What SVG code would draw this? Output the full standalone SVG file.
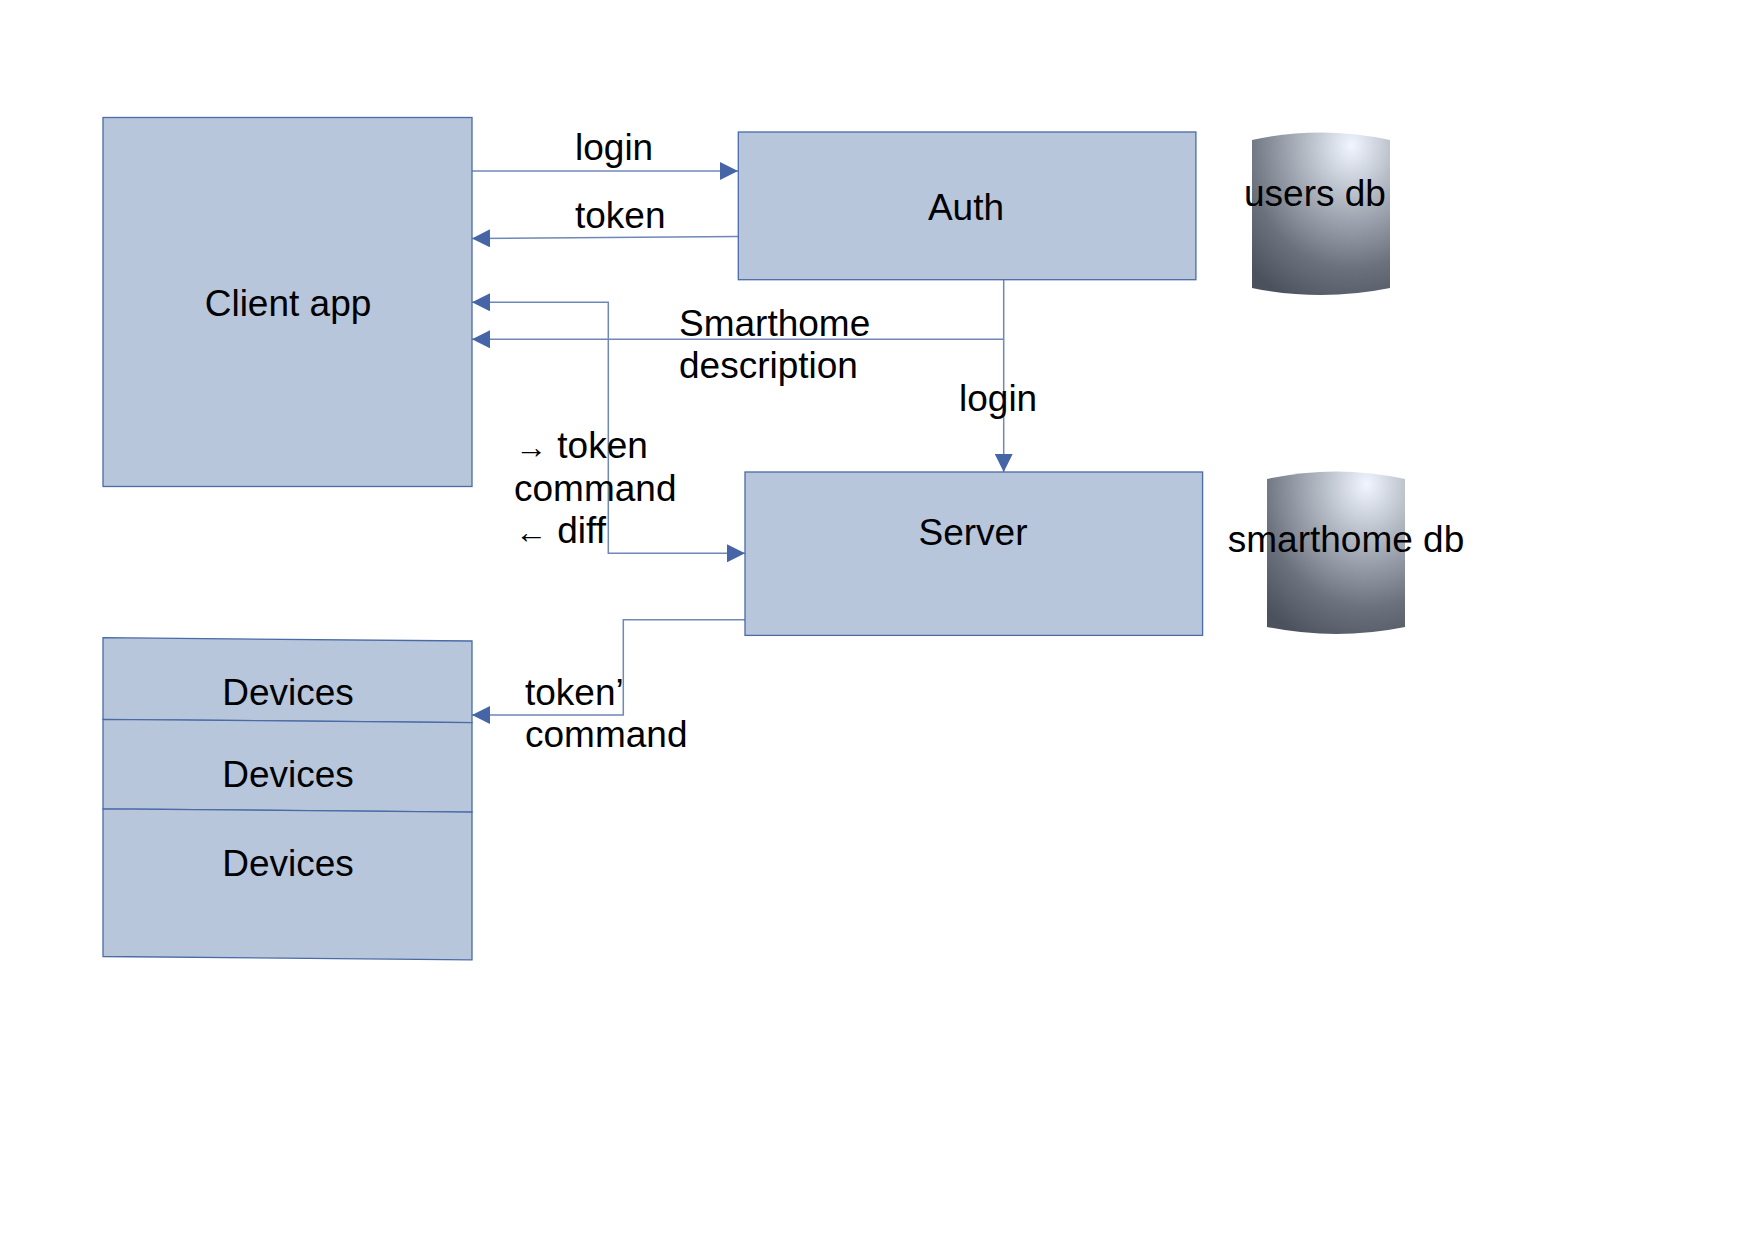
<svg xmlns="http://www.w3.org/2000/svg" width="1753" height="1240" viewBox="0 0 1753 1240">
<style>
.box{fill:#b7c6da;stroke:#4a6aa8;stroke-width:1.3}
.lbl{font-family:"Liberation Sans",Arial,sans-serif;font-size:37px;fill:#000}
.mid{text-anchor:middle}
.con{fill:none;stroke:#6f88b8;stroke-width:1.5}
</style>
<defs>
<marker id="ah" viewBox="0 0 18 18" refX="18" refY="9" markerWidth="18" markerHeight="18" markerUnits="userSpaceOnUse" orient="auto-start-reverse">
<path d="M0,0 L18,9 L0,18 Z" fill="#4565a6"/>
</marker>
<radialGradient id="cyl" cx="0.72" cy="0.08" r="1.05" fx="0.72" fy="0.08">
<stop offset="0" stop-color="#f0f5ff"/>
<stop offset="0.32" stop-color="#b4bac4"/>
<stop offset="0.72" stop-color="#6b727e"/>
<stop offset="1" stop-color="#4c525d"/>
</radialGradient>
</defs>
<rect width="1753" height="1240" fill="#fff"/>
<g id="connectors">
<line class="con" x1="472" y1="171" x2="738" y2="171" marker-end="url(#ah)"/>
<line class="con" x1="738" y1="236.5" x2="472" y2="238.5" marker-end="url(#ah)"/>
<line class="con" x1="1003.7" y1="339.3" x2="472" y2="339.3" marker-end="url(#ah)"/>
<line class="con" x1="1003.7" y1="279.7" x2="1003.7" y2="472" marker-end="url(#ah)"/>
<polyline class="con" points="472,302.3 608.3,302.3 608.3,553.3 745,553.3" marker-start="url(#ah)" marker-end="url(#ah)"/>
<polyline class="con" points="745,619.7 623.3,619.7 623.3,715 472,715" marker-end="url(#ah)"/>
</g>
<g id="client-app">
<rect class="box" x="103" y="117.5" width="369" height="369"/>
<text class="lbl mid" x="288" y="316">Client app</text>
</g>
<g id="auth">
<rect class="box" x="738.3" y="132" width="457.6" height="147.7"/>
<text class="lbl mid" x="966" y="220">Auth</text>
</g>
<g id="server">
<rect class="box" x="745" y="472" width="457.6" height="163.4"/>
<text class="lbl mid" x="973" y="545">Server</text>
</g>
<g id="users-db">
<path d="M1252,140 Q1321,125 1390,140 L1390,288 Q1321,302 1252,288 Z" fill="url(#cyl)"/>
<text class="lbl mid" x="1315" y="206">users db</text>
</g>
<g id="smarthome-db">
<path d="M1267,479 Q1336,464 1405,479 L1405,627 Q1336,641 1267,627 Z" fill="url(#cyl)"/>
<text class="lbl mid" x="1346" y="552">smarthome db</text>
</g>
<g id="devices">
<polygon class="box" points="103,637.7 472,641 472,722.7 103,719.3"/>
<polygon class="box" points="103,719.3 472,722.7 472,812.2 103,808.8"/>
<polygon class="box" points="103,808.8 472,812.2 472,959.8 103,956.5"/>
<text class="lbl mid" x="288" y="705">Devices</text>
<text class="lbl mid" x="288" y="787">Devices</text>
<text class="lbl mid" x="288" y="876">Devices</text>
</g>
<g id="labels">
<text class="lbl" x="575" y="160">login</text>
<text class="lbl" x="575" y="228">token</text>
<text class="lbl" x="679" y="336">Smarthome</text>
<text class="lbl" x="679" y="378">description</text>
<text class="lbl" x="959" y="411">login</text>
<text class="lbl" x="515" y="458"><tspan font-size="32">→</tspan> token</text>
<text class="lbl" x="514" y="501">command</text>
<text class="lbl" x="515" y="543"><tspan font-size="32">←</tspan> diff</text>
<text class="lbl" x="525" y="705">token’</text>
<text class="lbl" x="525" y="747">command</text>
</g>
</svg>
